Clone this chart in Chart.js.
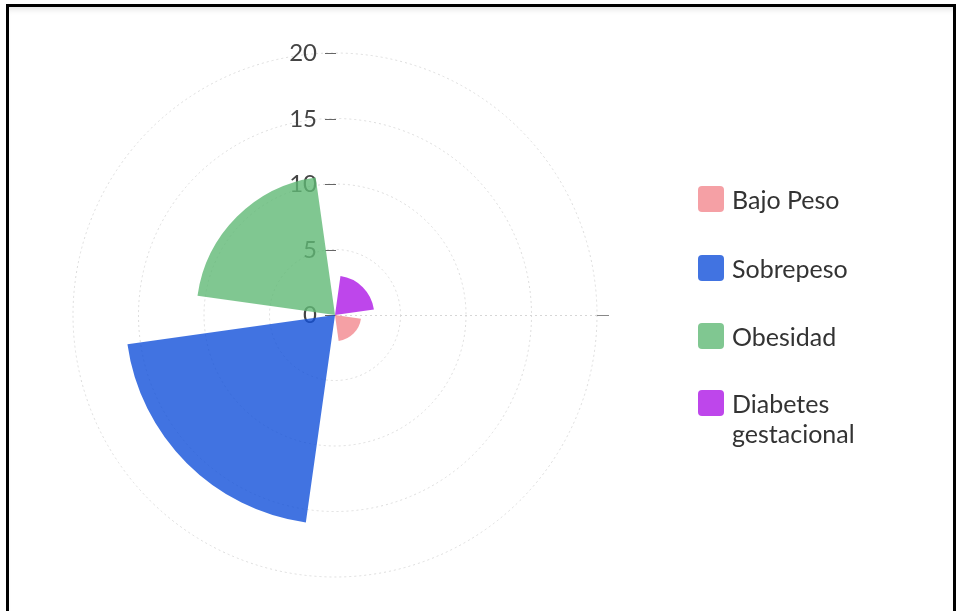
<!DOCTYPE html>
<html>
<head>
<meta charset="utf-8">
<script src="https://cdn.jsdelivr.net/npm/chart.js@4.4.1/dist/chart.umd.min.js"></script>
<style>
  html, body { margin: 0; padding: 0; background: #fff; overflow: hidden; }
  body { width: 965px; height: 611px; position: relative; font-family: Lato, sans-serif; }
  .frame {
    position: absolute; left: 6px; top: 4px; width: 950px; height: 640px;
    border: 3px solid #000; box-sizing: border-box;
    box-shadow: inset 0 6px 6px -4px rgba(0, 0, 0, 0.12);
  }
  .chart-wrap { position: absolute; left: 0; top: 0; width: 965px; height: 611px; }
  #legend { position: absolute; left: 698px; top: 0; }
  .item { position: absolute; left: 0; width: 240px; font-size: 25px; line-height: 30px; color: #333; white-space: nowrap; }
  .item .box { position: absolute; left: 0; top: 2px; width: 26px; height: 26px; border-radius: 4px; }
  .item .txt { position: absolute; left: 34px; top: 0; }
</style>
</head>
<body>
<div class="frame"></div>
<div class="chart-wrap"><canvas id="polar" width="965" height="611"></canvas></div>
<div id="legend"></div>
<script>
const categories = ['Bajo Peso', 'Sobrepeso', 'Obesidad', 'Diabetes gestacional'];
const values = [2, 16, 10.6, 3];
const colors = ['rgba(242,136,142,0.8)', 'rgba(18,80,217,0.8)', 'rgba(96,185,117,0.8)', 'rgba(174,24,230,0.8)'];
const radialTicks = [0, 5, 10, 15, 20];

// each wedge covers 74 deg, with an empty 16 deg slot after it
const wedgeAngle = 74;
const gapAngle = 16;

const labels = [];
const data = [];
const bg = [];
const angles = [];
categories.forEach((c, i) => {
  labels.push(c); data.push(values[i]); bg.push(colors[i]); angles.push(wedgeAngle);
  labels.push(''); data.push(0); bg.push('rgba(0,0,0,0)'); angles.push(gapAngle);
});

// radial tick labels along the vertical, plus the horizontal axis line
const radialAxis = {
  id: 'radialAxis',
  beforeDatasetsDraw(chart) {
    const s = chart.scales.r;
    const ctx = chart.ctx;
    const cx = s.xCenter, cy = s.yCenter;
    ctx.save();
    ctx.strokeStyle = '#d6d6d6';
    ctx.lineWidth = 1;
    ctx.setLineDash([2, 3]);
    ctx.beginPath();
    ctx.moveTo(cx, cy + 0.5);
    ctx.lineTo(cx + s.drawingArea, cy + 0.5);
    ctx.stroke();
    ctx.setLineDash([]);
    ctx.strokeStyle = '#888';
    ctx.beginPath();
    ctx.moveTo(cx + s.drawingArea, cy + 0.5);
    ctx.lineTo(cx + s.drawingArea + 12, cy + 0.5);
    ctx.stroke();

    ctx.font = '24px Lato';
    ctx.fillStyle = '#444';
    ctx.textAlign = 'right';
    ctx.textBaseline = 'middle';
    radialTicks.forEach(v => {
      const y = Math.round(cy - s.getDistanceFromCenterForValue(v)) + 0.5;
      ctx.fillText(String(v), cx - 18, y);
      ctx.strokeStyle = '#666';
      ctx.beginPath();
      ctx.moveTo(cx - 10, y);
      ctx.lineTo(cx + 1, y);
      ctx.stroke();
    });
    ctx.restore();
  }
};

new Chart(document.getElementById('polar'), {
  type: 'polarArea',
  data: {
    labels: labels,
    datasets: [{
      data: data,
      backgroundColor: bg,
      angle: angles,
      borderWidth: 0
    }]
  },
  options: {
    responsive: false,
    animation: false,
    layout: { padding: { left: 73, top: 53, right: 368, bottom: 34 } },
    plugins: { legend: { display: false }, tooltip: { enabled: true } },
    scales: {
      r: {
        min: 0,
        max: 20,
        startAngle: 98,
        ticks: { display: false, stepSize: 5 },
        grid: { color: '#dcdcdc', lineWidth: 1 },
        border: { dash: [2, 3] },
        angleLines: { display: false },
        pointLabels: { display: false }
      }
    }
  },
  plugins: [radialAxis]
});

// legend built from the same category and colour arrays
const legendTops = [184, 253, 321, 388];
const legendLines = [['Bajo Peso'], ['Sobrepeso'], ['Obesidad'], ['Diabetes', 'gestacional']];
const legend = document.getElementById('legend');
categories.forEach((c, i) => {
  const item = document.createElement('div');
  item.className = 'item';
  item.style.top = legendTops[i] + 'px';
  const box = document.createElement('span');
  box.className = 'box';
  box.style.background = colors[i];
  const txt = document.createElement('span');
  txt.className = 'txt';
  txt.innerHTML = legendLines[i].join('<br>');
  item.appendChild(box);
  item.appendChild(txt);
  legend.appendChild(item);
});
</script>
</body>
</html>
